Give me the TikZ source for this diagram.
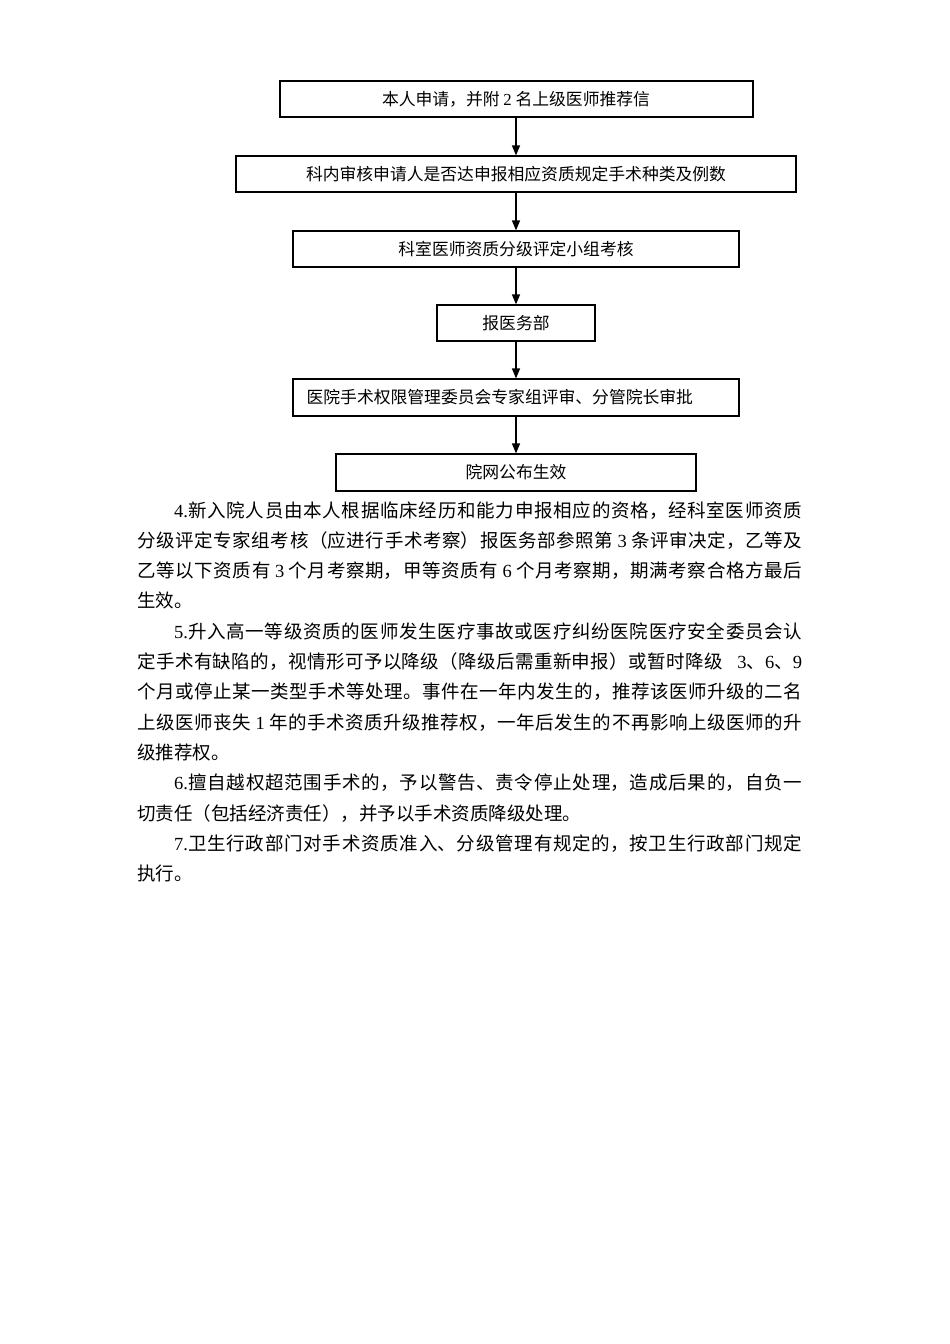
\documentclass[tikz,border=0pt]{standalone}
\usepackage{fontspec}
\setmainfont{Noto Sans CJK SC}
\newfontfamily\lat{Liberation Serif}
\usetikzlibrary{arrows.meta}
\newcommand{\spreadline}[2]{\parbox[t]{#1}{\XeTeXlinebreaklocale "zh"\XeTeXlinebreakskip=0pt plus 4pt\relax\parfillskip=0pt\relax\noindent #2}}
\begin{document}
\begin{tikzpicture}[x=1pt,y=-1pt,
  flowbox/.style={draw=black, line width=1.2pt, fill=white, inner sep=0pt, minimum height=36pt, font=\fontsize{16.8}{20}\selectfont},
  flowtext/.style={inner sep=0pt, font=\fontsize{16.8}{20}\selectfont},
  flowarrow/.style={line width=1.3pt, -{Triangle[length=10pt,width=8pt]}},
  bodyline/.style={anchor=base west, inner sep=0pt, font=\fontsize{18.5}{22}\selectfont}]
\fill[white] (0,0) rectangle (950,1344);
\useasboundingbox (0,0) rectangle (950,1344);

% flow chart
\node[flowbox, line width=2pt, minimum width=473pt] (b1) at (516,99) {本人申请，并附 {\lat 2} 名上级医师推荐信};
\node[flowbox, minimum width=560pt] (b2) at (516,174) {科内审核申请人是否达申报相应资质规定手术种类及例数};
\node[flowbox, minimum width=446pt] (b3) at (516,249) {科室医师资质分级评定小组考核};
\node[flowbox, minimum width=158pt] (b4) at (516,323) {报医务部};
\node[flowbox, minimum width=446pt, minimum height=37pt] (b5) at (516,397.5) {};
\node[flowtext, anchor=west] (t5) at ([xshift=14pt]b5.west) {医院手术权限管理委员会专家组评审、分管院长审批};
\node[flowbox, minimum width=360pt, minimum height=37pt] (b6) at (516,472.5) {院网公布生效};

\draw[flowarrow] (b1.south) -- (b2.north);
\draw[flowarrow] (b2.south) -- (b3.north);
\draw[flowarrow] (b3.south) -- (b4.north);
\draw[flowarrow] (b4.south) -- (b5.north);
\draw[flowarrow] (b5.south) -- (b6.north);

% body text
\node[bodyline] (l1) at (137,517) {\spreadline{665pt}{\hspace*{2em}{\lat 4.}新入院人员由本人根据临床经历和能力申报相应的资格，经科室医师资质}};
\node[bodyline] (l2) at (137,547.3) {\spreadline{665pt}{分级评定专家组考核（应进行手术考察）报医务部参照第 {\lat 3} 条评审决定，乙等及}};
\node[bodyline] (l3) at (137,577.6) {\spreadline{665pt}{乙等以下资质有 {\lat 3} 个月考察期，甲等资质有 {\lat 6} 个月考察期，期满考察合格方最后}};
\node[bodyline] (l4) at (137,607.9) {生效。};
\node[bodyline] (l5) at (137,638.2) {\spreadline{665pt}{\hspace*{2em}{\lat 5.}升入高一等级资质的医师发生医疗事故或医疗纠纷医院医疗安全委员会认}};
\node[bodyline] (l6) at (137,668.5) {\spreadline{665pt}{定手术有缺陷的，视情形可予以降级（降级后需重新申报）或暂时降级\hspace{0.8em}{\lat 3}、{\lat 6}、{\lat 9}}};
\node[bodyline] (l7) at (137,698.8) {\spreadline{665pt}{个月或停止某一类型手术等处理。事件在一年内发生的，推荐该医师升级的二名}};
\node[bodyline] (l8) at (137,729.1) {\spreadline{665pt}{上级医师丧失 {\lat 1} 年的手术资质升级推荐权，一年后发生的不再影响上级医师的升}};
\node[bodyline] (l9) at (137,759.4) {级推荐权。};
\node[bodyline] (l10) at (137,789.7) {\spreadline{665pt}{\hspace*{2em}{\lat 6.}擅自越权超范围手术的，予以警告、责令停止处理，造成后果的，自负一}};
\node[bodyline] (l11) at (137,820) {切责任（包括经济责任），并予以手术资质降级处理。};
\node[bodyline] (l12) at (137,850.3) {\spreadline{665pt}{\hspace*{2em}{\lat 7.}卫生行政部门对手术资质准入、分级管理有规定的，按卫生行政部门规定}};
\node[bodyline] (l13) at (137,880.6) {执行。};
\end{tikzpicture}
\end{document}
